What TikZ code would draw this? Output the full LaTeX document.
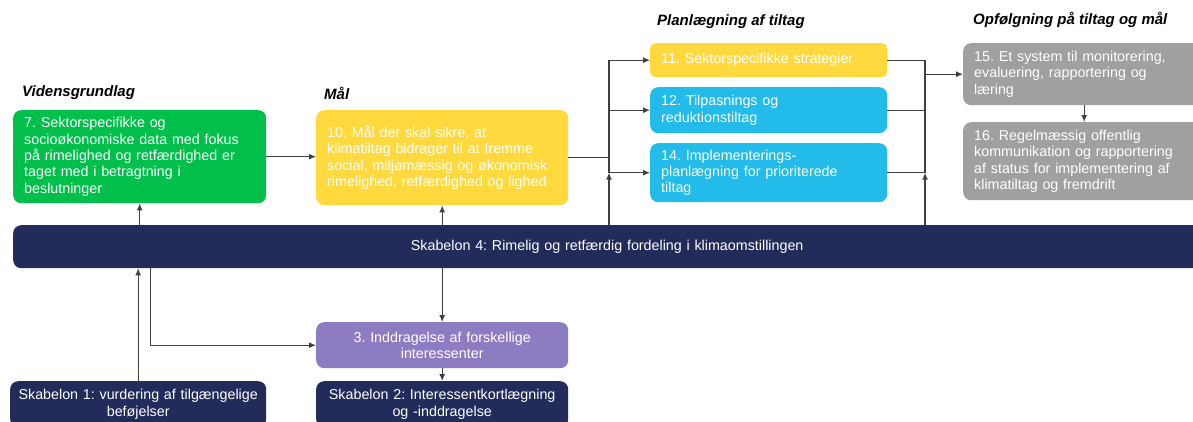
\documentclass[tikz,border=0pt]{standalone}
\usepackage{fontspec}
\setmainfont{Liberation Sans}
\usetikzlibrary{arrows.meta,calc,positioning}
\tikzset{>={Latex[length=7pt,width=6pt]}}
\definecolor{groen}{HTML}{00C04B}
\definecolor{gul}{HTML}{FFD93D}
\definecolor{blaa}{HTML}{22BBEA}
\definecolor{graa}{HTML}{A0A0A0}
\definecolor{lilla}{HTML}{8E7CC3}
\definecolor{marine}{HTML}{222B5A}
\definecolor{pilgraa}{HTML}{404040}
\newcommand{\tekst}{\fontsize{14.3}{16.3}\selectfont\frenchspacing}
\newcommand{\overtekst}{\fontsize{15}{17}\selectfont\bfseries\itshape}
\tikzset{
	felt/.style={rounded corners=8pt, anchor=north west, inner xsep=11pt, inner ysep=3pt, text=white, font=\tekst, align=left},
	midtfelt/.style={felt, align=center, inner xsep=2pt},
	overskrift/.style={anchor=west, inner sep=0pt, font=\overtekst},
	pil/.style={->, draw=pilgraa, line width=1.1pt},
	linje/.style={draw=pilgraa, line width=1.1pt}
}
\begin{document}
\begin{tikzpicture}[x=1pt,y=-1pt]
		\useasboundingbox (0,0) rectangle (1193,421);
		\clip (0,0) rectangle (1193,421);
		% overskrifter
		\node[overskrift] (hviden) at (22,93) {Vidensgrundlag};
		\node[overskrift] (hmaal) at (324,93) {Mål};
		\node[overskrift] (hplan) at (657,22) {Planlægning af tiltag};
		\node[overskrift] (hopf) at (973,20) {Opfølgning på tiltag og mål};
		% felter
		\node[felt, fill=groen, text width=231pt, minimum width=253pt, minimum height=93pt] (f7) at (13,110) {7. Sektorspecifikke og\\socioøkonomiske data med fokus\\på rimelighed og retfærdighed er\\taget med i betragtning i\\beslutninger};
		\node[felt, fill=gul, text width=230pt, minimum width=252pt, minimum height=95pt] (f10) at (316,110) {10. Mål der skal sikre, at\\klimatiltag bidrager til at fremme\\social, miljømæssig og økonomisk\\rimelighed, retfærdighed og lighed};
		\node[felt, fill=gul, rounded corners=5pt, text width=215pt, minimum width=237pt, minimum height=34pt] (f11) at (650,43) {11. Sektorspecifikke strategier};
		\node[felt, fill=blaa, text width=215pt, minimum width=237pt, minimum height=46pt] (f12) at (650,87) {12. Tilpasnings og\\reduktionstiltag};
		\node[felt, fill=blaa, text width=215pt, minimum width=237pt, minimum height=59pt] (f14) at (650,143) {14. Implementerings-\\planlægning for prioriterede\\tiltag};
		\node[felt, fill=graa, text width=220pt, minimum width=242pt, minimum height=62pt] (f15) at (963,43) {15. Et system til monitorering,\\evaluering, rapportering og\\læring};
		\node[felt, fill=graa, text width=220pt, minimum width=242pt, minimum height=78pt] (f16) at (963,122) {16. Regelmæssig offentlig\\kommunikation og rapportering\\af status for implementering af\\klimatiltag og fremdrift};
		\node[midtfelt, fill=marine, text width=1184pt, minimum width=1188pt, minimum height=43pt] (bar) at (13,225) {Skabelon 4: Rimelig og retfærdig fordeling i klimaomstillingen};
		\node[midtfelt, fill=lilla, text width=248pt, minimum width=252pt, minimum height=46pt] (f3) at (316,322) {3. Inddragelse af forskellige\\interessenter};
		\node[midtfelt, fill=marine, text width=252pt, minimum width=256pt, minimum height=46pt] (s1) at (10,381) {Skabelon 1: vurdering af tilgængelige\\beføjelser};
		\node[midtfelt, fill=marine, text width=248pt, minimum width=252pt, minimum height=46pt] (s2) at (316,381) {Skabelon 2: Interessentkortlægning\\og -inddragelse};
		% knudepunkter
		\coordinate (j1) at (609,0);
		\coordinate (j2) at (925,0);
		% pile
		\draw[pil] (f7.east) -- (f7.east -| f10.west);
		\draw[pil] (bar.north -| f7.south) -- (f7.south);
		\draw[pil] (bar.north -| f10.south) -- (f10.south);
		\draw[linje] (f10.east) -- (f10.east -| j1);
		\draw[linje] (j1 |- f11.west) -- (j1 |- f14.west);
		\draw[pil] (bar.north -| j1) -- (j1 |- f14.west);
		\foreach \f in {f11,f12,f14}
			\draw[pil] (j1 |- \f.west) -- (\f.west);
		\foreach \f in {f11,f12,f14}
			\draw[linje] (\f.east) -- (\f.east -| j2);
		\draw[linje] (j2 |- f11.east) -- (j2 |- f14.east);
		\draw[pil] (bar.north -| j2) -- (j2 |- f14.east);
		\draw[pil] (j2 |- f15.west) -- (f15.west);
		\draw[pil] (f15.south) -- (f16.north);
		\draw[pil] (s1.north) -- (s1.north |- bar.south);
		\draw[pil] ([xshift=12pt]s1.north |- bar.south) |- (f3.west);
		\draw[pil] (bar.south -| f3.north) -- (f3.north);
		\draw[pil] (f3.south) -- (s2.north);
	\end{tikzpicture}
\end{document}
